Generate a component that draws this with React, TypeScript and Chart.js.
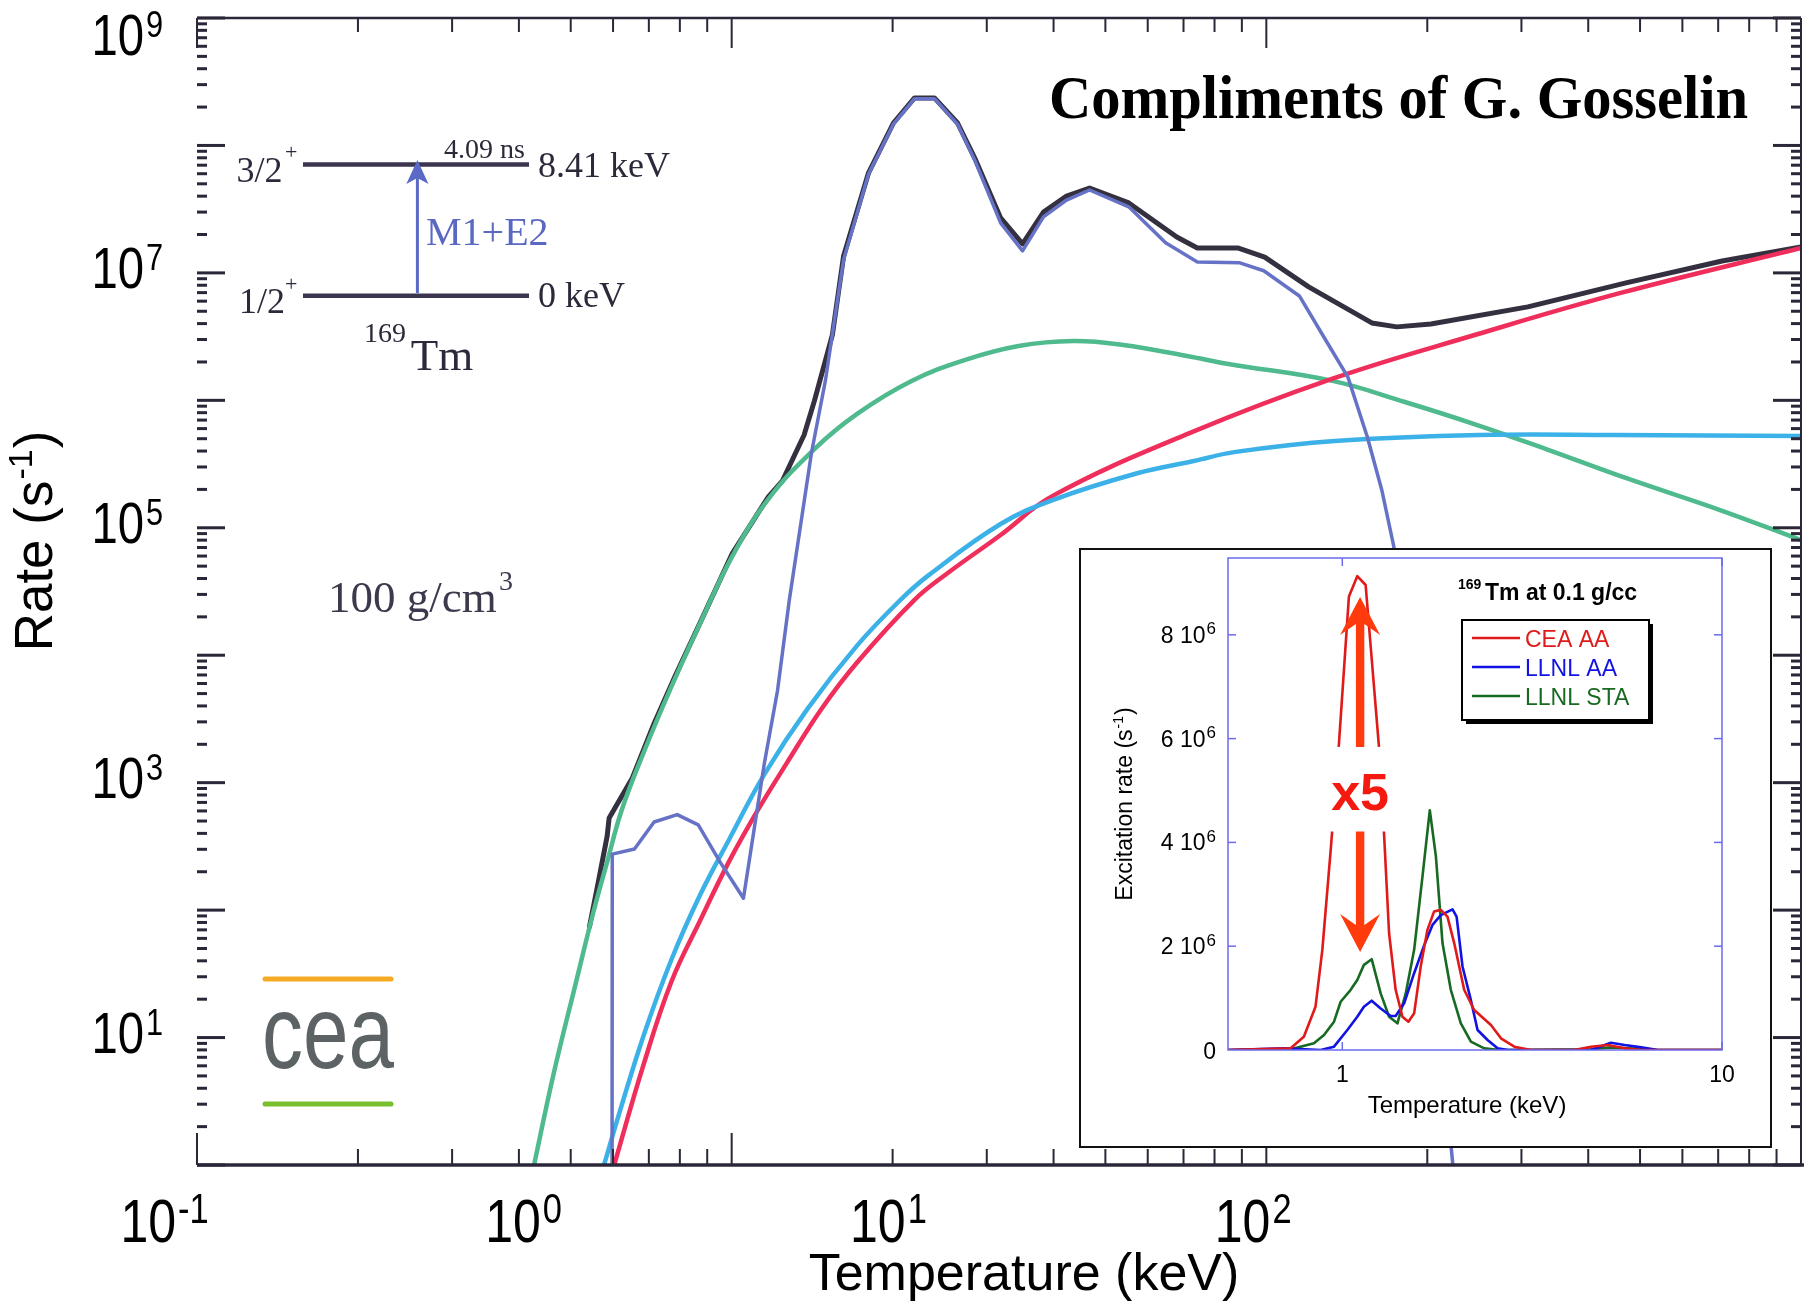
import { useEffect, useRef } from "react";
import { Chart, registerables } from "chart.js";

Chart.register(...registerables);

// ---------------------------------------------------------------------------
// Main panel: 169Tm excitation rate (s^-1) versus temperature (keV), 100 g/cm3
// ---------------------------------------------------------------------------
const totalTemp = [0.542, 0.559, 0.585, 0.59, 0.652, 0.716, 0.784, 0.874, 1.003, 1.171, 1.244, 1.366, 1.428, 1.543, 1.619, 1.803, 2.007, 2.198, 2.395, 2.645, 2.859, 3.184, 3.5, 3.83, 4.23, 4.67, 5.53, 6.8, 7.43, 8.84, 9.93, 12.0, 15.75, 17.54, 20.31, 30.84, 47.07, 71.2, 100];
const totalRate = [74, 142, 382, 528, 1090, 2910, 6870, 1.82e4, 6.3e4, 1.75e5, 2.33e5, 5.35e5, 9.9e5, 3.26e6, 1.35e7, 6.1e7, 1.5e8, 2.36e8, 2.36e8, 1.5e8, 7.7e7, 2.7e7, 1.69e7, 3.0e7, 4.0e7, 4.63e7, 3.54e7, 1.91e7, 1.57e7, 1.57e7, 1.33e7, 7.76e6, 4.05e6, 3.77e6, 3.97e6, 5.41e6, 8.34e6, 1.24e7, 1.6e7];

const neetTemp = [0.597, 0.598, 0.658, 0.716, 0.791, 0.866, 0.951, 1.052, 1.151, 1.218, 1.282, 1.41, 1.497, 1.619, 1.803, 2.007, 2.198, 2.395, 2.645, 2.859, 3.184, 3.5, 3.83, 4.23, 4.67, 5.53, 6.48, 7.43, 8.92, 9.89, 11.53, 12.81, 14.21, 15.45, 16.44, 17.32, 22.33];
const neetRate = [0.01, 275, 302, 491, 562, 466, 239, 124, 1413, 5240, 2.72e4, 3.86e5, 1.42e6, 1.26e7, 5.97e7, 1.47e8, 2.33e8, 2.33e8, 1.47e8, 7.4e7, 2.47e7, 1.49e7, 2.75e7, 3.73e7, 4.47e7, 3.3e7, 1.72e7, 1.22e7, 1.2e7, 1.04e7, 6.59e6, 3.14e6, 1.52e6, 5.15e5, 1.98e5, 7.07e4, 1];

const neecTemp = [0.41, 0.427, 0.465, 0.51, 0.551, 0.585, 0.622, 0.684, 0.771, 0.874, 1.003, 1.171, 1.428, 1.719, 2.17, 2.726, 3.44, 4.36, 5.4, 7.1, 8.5, 13.3, 18.16, 24.8, 33.35, 47, 71.2, 100];
const neecRate = [0.45, 1, 5.3, 25.8, 95.7, 239, 600, 1710, 5640, 1.8e4, 6.0e4, 1.68e5, 4.15e5, 7.87e5, 1.42e6, 2.07e6, 2.67e6, 2.92e6, 2.72e6, 2.23e6, 1.93e6, 1.42e6, 9.7e5, 6.4e5, 4.15e5, 2.46e5, 1.36e5, 8.0e4];

const photoTemp = [0.575, 0.603, 0.684, 0.771, 0.874, 0.988, 1.117, 1.266, 1.472, 1.719, 2.198, 2.522, 3.184, 3.984, 7.2, 13.3, 24.8, 46, 100];
const photoRate = [0.5, 1, 6.1, 27.3, 83.6, 239, 600, 1410, 3790, 8850, 2.72e4, 4.34e4, 8.78e4, 1.78e5, 5.55e5, 1.48e6, 3.3e6, 6.96e6, 1.57e7];

const inelTemp = [0.549, 0.577, 0.614, 0.684, 0.771, 0.874, 0.988, 1.151, 1.386, 1.719, 2.069, 2.34, 3.184, 3.984, 5.757, 7.313, 8.765, 13.43, 25, 45, 100];
const inelRate = [0.5, 1, 2.42, 10.3, 40.6, 133, 355, 1160, 3790, 1.2e4, 2.72e4, 4.27e4, 1.07e5, 1.65e5, 2.69e5, 3.34e5, 3.94e5, 4.8e5, 5.35e5, 5.35e5, 5.25e5];

// decade labels of the main axes (powers of ten)
const yDecadeExponents = [1, 3, 5, 7, 9];
const xDecadeExponents = [-1, 0, 1, 2];

// ---------------------------------------------------------------------------
// Inset: 169Tm at 0.1 g/cc, linear excitation rate
// ---------------------------------------------------------------------------
const insetSeriesNames = ["CEA AA", "LLNL AA", "LLNL STA"];

const ceaTemp = [0.497, 0.731, 0.792, 0.85, 0.886, 0.932, 0.98, 1.041, 1.095, 1.152, 1.188, 1.249, 1.288, 1.328, 1.382, 1.44, 1.493, 1.546, 1.609, 1.675, 1.745, 1.817, 1.892, 1.971, 2.094, 2.225, 2.463, 2.617, 2.838, 3.14, 4.08, 4.52, 5.0, 5.54, 6.13, 10];
const ceaRate = [0, 3.2e4, 2.57e5, 8.35e5, 1.93e6, 3.85e6, 5.91e6, 8.74e6, 9.13e6, 8.96e6, 7.77e6, 5.84e6, 4.17e6, 2.25e6, 1.16e6, 6.4e5, 5.46e5, 7.07e5, 1.61e6, 2.31e6, 2.67e6, 2.7e6, 2.57e6, 2.06e6, 1.16e6, 7.7e5, 4.8e5, 2.25e5, 6.4e4, 0, 0, 6.4e4, 9.6e4, 3.2e4, 0, 0];

const llnlAaTemp = [0.497, 0.702, 0.877, 0.951, 1.031, 1.095, 1.14, 1.195, 1.262, 1.341, 1.382, 1.455, 1.546, 1.643, 1.728, 1.817, 1.951, 2.0, 2.073, 2.181, 2.271, 2.413, 2.564, 2.73, 4.52, 5.1, 5.54, 6.13, 6.78, 10];
const llnlAaRate = [0, 3.2e4, 0, 6.4e4, 3.85e5, 6.4e5, 8.35e5, 9.5e5, 8.0e5, 6.55e5, 6.55e5, 9.0e5, 1.48e6, 2.02e6, 2.41e6, 2.6e6, 2.71e6, 2.57e6, 1.61e6, 9.6e5, 3.85e5, 1.93e5, 3.2e4, 0, 0, 1.41e5, 9.6e4, 5.1e4, 0, 0];

const llnlStaTemp = [0.497, 0.731, 0.842, 0.895, 0.951, 0.99, 1.052, 1.095, 1.14, 1.195, 1.262, 1.328, 1.397, 1.469, 1.546, 1.626, 1.7, 1.764, 1.836, 1.931, 2.052, 2.181, 2.365, 2.6, 4.52, 5.1, 6.13, 6.78, 10];
const llnlStaRate = [0, 1.3e4, 1.28e5, 2.9e5, 5.46e5, 9.3e5, 1.16e6, 1.35e6, 1.64e6, 1.75e6, 1.09e6, 6.4e5, 5.14e5, 1.09e6, 1.93e6, 3.34e6, 4.62e6, 3.73e6, 2.06e6, 1.16e6, 5.14e5, 1.6e5, 3.2e4, 0, 1.3e4, 5.1e4, 1.9e4, 0, 0];

const insetYTicks = [0, 2e6, 4e6, 6e6, 8e6];
const insetXTicks = [1, 10];

// "x5" marker with its two arrows, in inset data units
const markerTemp = 1.114;
const arrowUpRate = [5.84e6, 8.73e6];
const arrowDownRate = [4.21e6, 1.89e6];
const markerLabelRate = 4.62e6;
const markerBoxTemp = [0.922, 1.357];
const markerBoxRate = [4.21e6, 5.84e6];

// ---------------------------------------------------------------------------
const SANS = '"Liberation Sans", Arial, Helvetica, sans-serif';
const SERIF = '"Liberation Serif", "Times New Roman", serif';
const AXIS = "#2b2638";
const INK = "#2c2a3a";

type Ctx = CanvasRenderingContext2D;

const pts = (xs: number[], ys: number[]) => xs.map((x, i) => ({ x, y: ys[i] }));

function line(ctx: Ctx, x1: number, y1: number, x2: number, y2: number, w: number) {
  ctx.lineWidth = w;
  ctx.beginPath();
  ctx.moveTo(x1, y1);
  ctx.lineTo(x2, y2);
  ctx.stroke();
}

function measure(ctx: Ctx, s: string, font: string) {
  ctx.save();
  ctx.font = font;
  const w = ctx.measureText(s).width;
  ctx.restore();
  return w;
}

function text(ctx: Ctx, s: string, x: number, y: number, font: string, color: string, align: CanvasTextAlign = "left", sx = 1) {
  ctx.save();
  ctx.font = font;
  ctx.fillStyle = color;
  ctx.textAlign = align;
  ctx.textBaseline = "alphabetic";
  ctx.translate(x, y);
  ctx.scale(sx, 1);
  ctx.fillText(s, 0, 0);
  ctx.restore();
}

// "10" followed by a raised exponent
function power(ctx: Ctx, exp: string, x: number, baseline: number, align: "center" | "right", big: number, small: number, rise: number, sx: number) {
  const bigFont = `${big}px ${SANS}`;
  const w = measure(ctx, "10", bigFont) * sx;
  const left = align === "center" ? x - w / 2 : x - w;
  text(ctx, "10", left, baseline, bigFont, "#000", "left", sx);
  text(ctx, exp, left + w + 2, baseline - rise, `${small}px ${SANS}`, "#000", "left", sx);
}

// rotated (bottom-to-top) title with a superscript part
function verticalTitle(ctx: Ctx, cx: number, cy: number, pre: string, sup: string, post: string, size: number, supSize: number, rise: number) {
  const f = `${size}px ${SANS}`;
  const fs = `${supSize}px ${SANS}`;
  const w1 = measure(ctx, pre, f);
  const w2 = measure(ctx, sup, fs);
  const w3 = measure(ctx, post, f);
  const total = w1 + w2 + w3 + 2;
  ctx.save();
  ctx.translate(cx, cy);
  ctx.rotate(-Math.PI / 2);
  const base = size * 0.36;
  let x = -total / 2;
  text(ctx, pre, x, base, f, "#000");
  x += w1 + 1;
  text(ctx, sup, x, base - rise, fs, "#000");
  x += w2 + 1;
  text(ctx, post, x, base, f, "#000");
  ctx.restore();
}

function barbedArrow(ctx: Ctx, x: number, yTail: number, yTip: number) {
  const dir = yTip < yTail ? -1 : 1;
  const sw = 4.2, hw = 20, hl = 38, notch = 11;
  const yWing = yTip - dir * hl;
  const yNotch = yTip - dir * (hl - notch);
  ctx.beginPath();
  ctx.moveTo(x, yTip);
  ctx.lineTo(x + hw, yWing);
  ctx.lineTo(x + sw, yNotch);
  ctx.lineTo(x + sw, yTail);
  ctx.lineTo(x - sw, yTail);
  ctx.lineTo(x - sw, yNotch);
  ctx.lineTo(x - hw, yWing);
  ctx.closePath();
  ctx.fill();
}

// ---------------------------------------------------------------------------
const mainDecor = {
  id: "mainDecor",
  afterDatasetsDraw(chart: any) {
    const ctx: Ctx = chart.ctx;
    const a = chart.chartArea;
    const xs = chart.scales.x;
    const ys = chart.scales.y;
    ctx.save();
    ctx.strokeStyle = AXIS;
    ctx.lineCap = "butt";
    line(ctx, a.left, a.top, a.right, a.top, 2.5);
    line(ctx, a.left, a.bottom, a.right + 3, a.bottom, 3.5);
    line(ctx, a.right, a.top, a.right, a.bottom, 2);

    // logarithmic minor/major ticks, pointing inward
    for (let e = 0; e <= 9; e++) {
      for (let m = 1; m <= 9; m++) {
        const v = m * Math.pow(10, e);
        if (v > 1e9) break;
        const py = ys.getPixelForValue(v);
        const len = m === 1 ? 28 : 10;
        line(ctx, a.left, py, a.left + len, py, 3);
        line(ctx, a.right, py, a.right - len, py, 3);
      }
    }
    for (let e = -1; e <= 2; e++) {
      for (let m = 1; m <= 9; m++) {
        const v = m * Math.pow(10, e);
        if (v > 100) break;
        const px = xs.getPixelForValue(v);
        line(ctx, px, a.bottom, px, a.bottom - (m === 1 ? 32 : 16), 2);
        line(ctx, px, a.top, px, a.top + (m === 1 ? 30 : 14), 2);
      }
    }
    ctx.restore();
  },
  afterDraw(chart: any) {
    const ctx: Ctx = chart.ctx;
    const a = chart.chartArea;
    const ys = chart.scales.y;
    const xl = chart.scales.xLabel;

    // decade labels
    for (const e of yDecadeExponents) {
      const py = ys.getPixelForValue(Math.pow(10, e));
      const base = Math.max(py + 15, a.top + 37);
      power(ctx, String(e), a.left - 53, base, "right", 57, 37, 18, 0.83);
    }
    for (const e of xDecadeExponents) {
      const px = xl.getPixelForValue(Math.pow(10, e));
      power(ctx, e < 0 ? "-" + Math.abs(e) : String(e), px, a.bottom + 77, "center", 61, 42, 19, 0.82);
    }

    // axis titles
    verticalTitle(ctx, 33, 541, "Rate (s", "-1", ")", 53, 34, 20);
    text(ctx, "Temperature (keV)", 1024, 1290, `52px ${SANS}`, "#000", "center");

    // credit line
    const credit = "Compliments of G. Gosselin";
    const cf = `bold 62px ${SERIF}`;
    text(ctx, credit, 1049, 118, cf, "#000", "left", 699 / measure(ctx, credit, cf));

    // level scheme of 169Tm
    ctx.save();
    ctx.strokeStyle = "#3b3550";
    line(ctx, 303, 164.5, 529, 164.5, 4.5);
    line(ctx, 303, 295.7, 529, 295.7, 4.5);
    ctx.strokeStyle = "#5b6ac6";
    ctx.fillStyle = "#5b6ac6";
    line(ctx, 417.4, 293, 417.4, 176, 3);
    ctx.beginPath();
    ctx.moveTo(417.4, 160);
    ctx.lineTo(428.5, 184);
    ctx.lineTo(417.4, 178);
    ctx.lineTo(406.3, 184);
    ctx.closePath();
    ctx.fill();
    ctx.restore();
    text(ctx, "3/2", 236.6, 181.7, `36px ${SERIF}`, INK);
    text(ctx, "+", 285, 159, `22px ${SERIF}`, INK);
    text(ctx, "1/2", 239, 313.3, `36px ${SERIF}`, INK);
    text(ctx, "+", 285, 290.5, `22px ${SERIF}`, INK);
    text(ctx, "4.09 ns", 444, 158, `28px ${SERIF}`, INK);
    text(ctx, "8.41 keV", 538, 176.7, `36px ${SERIF}`, INK);
    text(ctx, "0 keV", 538, 306.7, `36px ${SERIF}`, INK);
    text(ctx, "M1+E2", 426, 245, `40px ${SERIF}`, "#5b68c2");
    text(ctx, "169", 364, 341.7, `28px ${SERIF}`, INK);
    text(ctx, "Tm", 410.7, 370, `45px ${SERIF}`, INK);

    // density note
    text(ctx, "100 g/cm", 328, 611.5, `45px ${SERIF}`, "#3b3a4d");
    text(ctx, "3", 499, 590, `28px ${SERIF}`, "#3b3a4d");

    // laboratory logo
    ctx.save();
    ctx.lineCap = "round";
    ctx.strokeStyle = "#f6a922";
    line(ctx, 265, 979, 391, 979, 5);
    ctx.strokeStyle = "#79bf2b";
    line(ctx, 265, 1104, 391, 1104, 5);
    ctx.restore();
    const lf = `104px ${SANS}`;
    text(ctx, "cea", 262, 1068, lf, "#5d6365", "left", 132 / measure(ctx, "cea", lf));
  },
};

const insetDecor = {
  id: "insetDecor",
  afterDatasetsDraw(chart: any) {
    const ctx: Ctx = chart.ctx;
    const a = chart.chartArea;
    const xs = chart.scales.x;
    const ys = chart.scales.y;

    // frame and ticks
    ctx.save();
    ctx.strokeStyle = "#6b6bef";
    ctx.lineWidth = 1.5;
    ctx.strokeRect(a.left, a.top, a.right - a.left, a.bottom - a.top);
    for (const v of insetYTicks) {
      if (v === 0) continue;
      const py = ys.getPixelForValue(v);
      line(ctx, a.left, py, a.left + 8, py, 1.5);
      line(ctx, a.right, py, a.right - 8, py, 1.5);
    }
    for (const t of insetXTicks) {
      const px = xs.getPixelForValue(t);
      line(ctx, px, a.top, px, a.top + 8, 1.5);
      line(ctx, px, a.bottom, px, a.bottom - 8, 1.5);
    }
    ctx.restore();

    // "x5" marker: blank patch, arrows, label
    const mx = xs.getPixelForValue(markerTemp);
    const bx1 = xs.getPixelForValue(markerBoxTemp[0]);
    const bx2 = xs.getPixelForValue(markerBoxTemp[1]);
    const by1 = ys.getPixelForValue(markerBoxRate[1]);
    const by2 = ys.getPixelForValue(markerBoxRate[0]);
    ctx.save();
    ctx.fillStyle = "#ffffff";
    ctx.fillRect(bx1, by1, bx2 - bx1, by2 - by1);
    ctx.fillStyle = "#ff3a0c";
    barbedArrow(ctx, mx, ys.getPixelForValue(arrowUpRate[0]), ys.getPixelForValue(arrowUpRate[1]));
    barbedArrow(ctx, mx, ys.getPixelForValue(arrowDownRate[0]), ys.getPixelForValue(arrowDownRate[1]));
    ctx.restore();
    text(ctx, "x5", mx, ys.getPixelForValue(markerLabelRate), `bold 52px ${SANS}`, "#f41a10", "center");

    // title
    text(ctx, "169", 377, 39, `bold 14px ${SANS}`, "#000");
    text(ctx, "Tm at 0.1 g/cc", 404, 50, `bold 23px ${SANS}`, "#000");

    // legend
    const lx = 381, ly = 70, lw = 187, lh = 100;
    ctx.save();
    ctx.fillStyle = "#000";
    ctx.fillRect(lx + 4, ly + 4, lw, lh);
    ctx.fillStyle = "#fff";
    ctx.fillRect(lx, ly, lw, lh);
    ctx.strokeStyle = "#000";
    ctx.lineWidth = 2;
    ctx.strokeRect(lx, ly, lw, lh);
    const colors = chart.data.datasets.map((d: any) => d.borderColor);
    insetSeriesNames.forEach((name, i) => {
      const ry = ly + 18 + i * 29;
      ctx.strokeStyle = colors[i];
      line(ctx, lx + 10, ry, lx + 58, ry, 2.5);
      text(ctx, name, lx + 63, ry + 8.5, `23px ${SANS}`, colors[i]);
    });
    ctx.restore();
  },
  afterDraw(chart: any) {
    const ctx: Ctx = chart.ctx;
    const a = chart.chartArea;
    const xs = chart.scales.x;
    const ys = chart.scales.y;
    const f = `23px ${SANS}`;
    const fs = `17px ${SANS}`;
    for (const v of insetYTicks) {
      const py = ys.getPixelForValue(v);
      const right = a.left - 12;
      if (v === 0) {
        text(ctx, "0", right, py + 9, f, "#000", "right");
        continue;
      }
      const sw = measure(ctx, "6", fs);
      text(ctx, "6", right - sw, py - 0.5, fs, "#000");
      text(ctx, `${v / 1e6} 10`, right - sw - 1, py + 8, f, "#000", "right");
    }
    for (const t of insetXTicks) {
      text(ctx, String(t), xs.getPixelForValue(t), a.bottom + 31.5, f, "#000", "center");
    }
    text(ctx, "Temperature (keV)", 386, 562.7, `24px ${SANS}`, "#000", "center");
    verticalTitle(ctx, 42.5, 254, "Excitation rate (s", "-1", ")", 23, 14, 9);
  },
};

// ---------------------------------------------------------------------------
function mainConfig(): any {
  const common = { pointRadius: 0, fill: false, borderJoinStyle: "round", borderCapStyle: "round" };
  return {
    type: "line",
    data: {
      datasets: [
        { ...common, label: "NEET", data: pts(neetTemp, neetRate), borderColor: "#6572c5", borderWidth: 3.5, tension: 0, order: 0 },
        { ...common, label: "Inelastic scattering", data: pts(inelTemp, inelRate), borderColor: "#3cb1e8", borderWidth: 4.5, tension: 0.4, order: 1 },
        { ...common, label: "Photoexcitation", data: pts(photoTemp, photoRate), borderColor: "#ef2e5c", borderWidth: 4.5, tension: 0.4, order: 2 },
        { ...common, label: "NEEC", data: pts(neecTemp, neecRate), borderColor: "#4eba8d", borderWidth: 4.5, tension: 0.4, order: 3 },
        { ...common, label: "Total", data: pts(totalTemp, totalRate), borderColor: "#35303f", borderWidth: 5, tension: 0, order: 4 },
      ],
    },
    options: {
      animation: false,
      responsive: false,
      devicePixelRatio: 1,
      events: [],
      layout: { padding: { left: 197, right: 3, top: 18, bottom: 136 } },
      plugins: { legend: { display: false }, tooltip: { enabled: false } },
      scales: {
        x: { type: "logarithmic", min: 0.1, max: 100, display: false },
        y: { type: "logarithmic", min: 1, max: 1e9, display: false },
        // placement scale for the large decade captions under the axis
        xLabel: { type: "logarithmic", axis: "x", min: 0.136, max: 3396, display: false },
      },
    },
    plugins: [mainDecor],
  };
}

function insetConfig(): any {
  const common = { pointRadius: 0, fill: false, borderWidth: 2.6, tension: 0, borderJoinStyle: "round" };
  return {
    type: "line",
    data: {
      datasets: [
        { ...common, label: insetSeriesNames[0], data: pts(ceaTemp, ceaRate), borderColor: "#e01a1a" },
        { ...common, label: insetSeriesNames[1], data: pts(llnlAaTemp, llnlAaRate), borderColor: "#1212e2" },
        { ...common, label: insetSeriesNames[2], data: pts(llnlStaTemp, llnlStaRate), borderColor: "#186a22" },
      ],
    },
    options: {
      animation: false,
      responsive: false,
      devicePixelRatio: 1,
      events: [],
      layout: { padding: { left: 147, right: 48, top: 8, bottom: 96 } },
      plugins: { legend: { display: false }, tooltip: { enabled: false } },
      scales: {
        x: { type: "logarithmic", min: 0.5, max: 10, display: false },
        y: { type: "linear", min: 0, max: 9.48e6, display: false },
      },
    },
    plugins: [insetDecor],
  };
}

export default function App() {
  const mainRef = useRef<HTMLCanvasElement>(null);
  const insetRef = useRef<HTMLCanvasElement>(null);

  useEffect(() => {
    const main = new Chart(mainRef.current as HTMLCanvasElement, mainConfig());
    const inset = new Chart(insetRef.current as HTMLCanvasElement, insetConfig());
    return () => {
      main.destroy();
      inset.destroy();
    };
  }, []);

  return (
    <div style={{ position: "absolute", left: 0, top: 0, width: 1804, height: 1301, background: "#fff", overflow: "hidden" }}>
      <canvas ref={mainRef} width={1804} height={1301} style={{ position: "absolute", left: 0, top: 0, width: 1804, height: 1301 }} />
      <div
        style={{
          position: "absolute",
          left: 1079,
          top: 548,
          width: 693,
          height: 600,
          boxSizing: "border-box",
          border: "2px solid #111",
          background: "#fff",
        }}
      >
        <canvas ref={insetRef} width={689} height={596} style={{ display: "block", width: 689, height: 596 }} />
      </div>
    </div>
  );
}
